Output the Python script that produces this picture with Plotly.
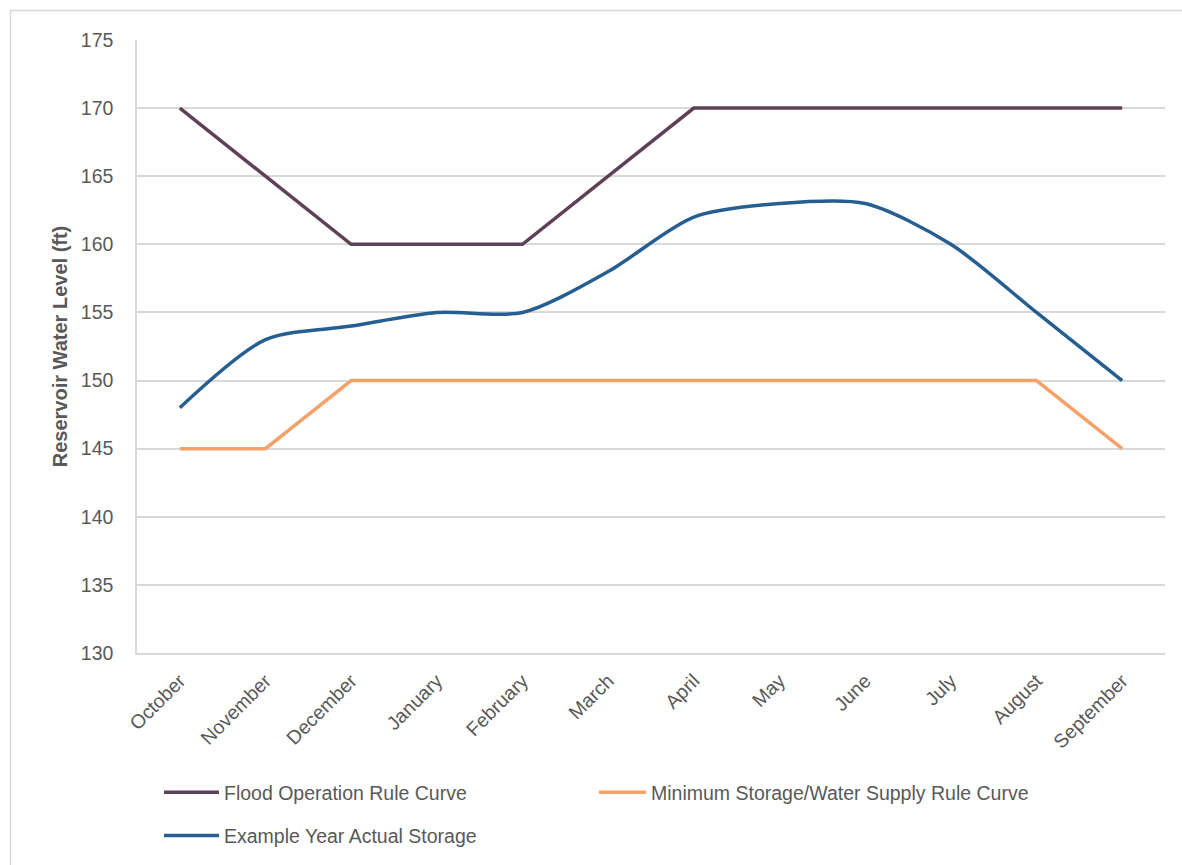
import plotly.graph_objects as go

months = ["October", "November", "December", "January", "February", "March",
          "April", "May", "June", "July", "August", "September"]
flood_rule = [170, 165, 160, 160, 160, 165, 170, 170, 170, 170, 170, 170]
min_storage_rule = [145, 145, 150, 150, 150, 150, 150, 150, 150, 150, 150, 145]
actual_storage = [148, 153, 154, 155, 155, 158, 162, 163, 163, 160, 155, 150]

FONT = "Liberation Sans Narrow, Arial Narrow, Liberation Sans, Arial, sans-serif"
GRAY_TXT = "#595959"
GRID = "#D9D9D9"

# plot area: x 137..1165 px, y 40..653 px
L, R, T, B = 137, 17, 40, 212
W, H = 1182, 865
pw, ph = W - L - R, H - T - B


def px_to_paper_x(px):
    return (px - L) / pw


def px_to_paper_y(py):
    return (H - B - py) / ph


fig = go.Figure()
fig.add_trace(go.Scatter(
    x=months, y=flood_rule, mode="lines", name="Flood Operation Rule Curve",
    legend="legend", legendgroup="a",
    line=dict(color="#5E4157", width=3.5)))
fig.add_trace(go.Scatter(
    x=months, y=min_storage_rule, mode="lines",
    name="Minimum Storage/Water Supply Rule Curve",
    legend="legend2", legendgroup="c",
    line=dict(color="#F4A26A", width=3.5)))
fig.add_trace(go.Scatter(
    x=months, y=actual_storage, mode="lines", name="Example Year Actual Storage",
    legend="legend", legendgroup="b",
    line=dict(color="#265E92", width=3.5, shape="spline", smoothing=0.8)))

# outer chart border
fig.add_shape(type="rect", xref="paper", yref="paper",
              x0=px_to_paper_x(10.5), x1=px_to_paper_x(1200),
              y0=px_to_paper_y(880), y1=px_to_paper_y(10.5),
              line=dict(color="#D9D9D9", width=1.5), fillcolor="rgba(0,0,0,0)",
              layer="below")

legend_font = dict(family=FONT, size=19.5, color=GRAY_TXT)

fig.update_layout(
    width=W, height=H,
    margin=dict(l=L, r=R, t=T, b=B, autoexpand=False),
    paper_bgcolor="white", plot_bgcolor="white",
    font=dict(family=FONT, color=GRAY_TXT, size=19),
    showlegend=True,
    legend=dict(orientation="v", x=px_to_paper_x(159), xanchor="left",
                y=px_to_paper_y(773), yanchor="top",
                font=legend_font, itemwidth=55, tracegroupgap=15,
                traceorder="grouped", bgcolor="rgba(0,0,0,0)"),
    legend2=dict(orientation="v", x=px_to_paper_x(594), xanchor="left",
                 y=px_to_paper_y(773), yanchor="top",
                 font=legend_font, itemwidth=47, bgcolor="rgba(0,0,0,0)"),
    xaxis=dict(range=[-0.5, 11.5], showgrid=False, tickangle=-45,
               showline=True, linecolor=GRID, linewidth=1.5,
               ticks="", ticklabelstandoff=7, automargin=False,
               tickfont=dict(size=19.5, color=GRAY_TXT), zeroline=False),
    yaxis=dict(range=[130, 175], dtick=5, showgrid=True, gridcolor=GRID,
               gridwidth=1.5, showline=True, linecolor=GRID, linewidth=1.5,
               ticks="", ticklabelstandoff=18, zeroline=False, automargin=False,
               tickfont=dict(size=19.5, color=GRAY_TXT),
               title=dict(text="<b>Reservoir Water Level (ft)</b>", standoff=8,
                          font=dict(size=20, color=GRAY_TXT))),
)

fig.write_html("out.html")
